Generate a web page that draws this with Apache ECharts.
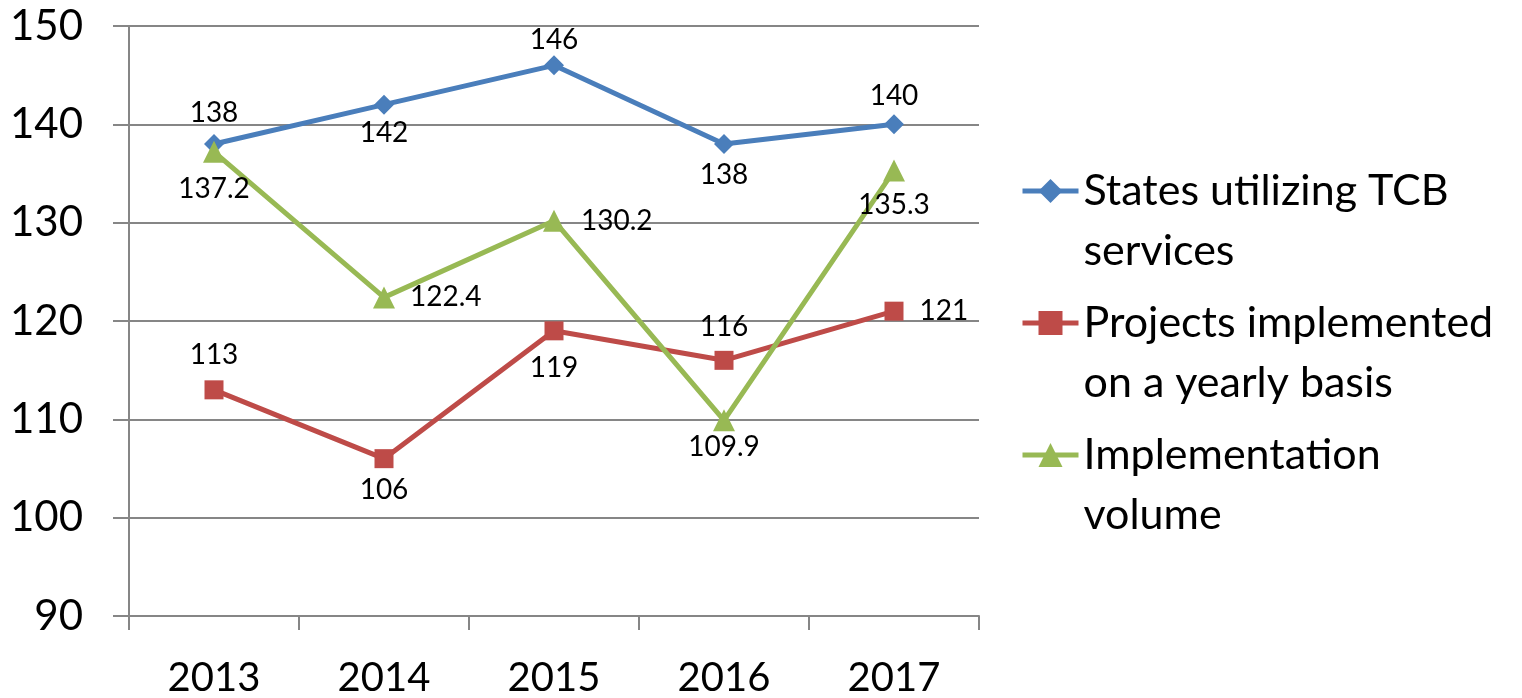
<!DOCTYPE html>
<html><head><meta charset="utf-8">
<script src="https://cdn.jsdelivr.net/npm/echarts@6/dist/echarts.min.js"></script>
<style>html,body{margin:0;padding:0;background:#fff}#c{width:1522px;height:698px}</style>
</head><body><div id="c"></div>
<script>
const categories = ['2013', '2014', '2015', '2016', '2017'];
const statesTCB = [138, 142, 146, 138, 140];
const projectsYearly = [113, 106, 119, 116, 121];
const implVolume = [137.2, 122.4, 130.2, 109.9, 135.3];
const seriesNames = ['States utilizing TCB services', 'Projects implemented on a yearly basis', 'Implementation volume'];
const legendText = ['States utilizing TCB\nservices', 'Projects implemented\non a yearly basis', 'Implementation\nvolume'];
const yTicks = { min: 90, max: 150, interval: 10 };

const FONT = 'Lato';
const colors = ['#4A7EBB', '#BE4B48', '#98B954'];
const labelPlace = [
  [['top', 7], ['bottom', 4], ['top', 1], ['bottom', 7], ['top', 4]],
  [['top', 11], ['bottom', 8], ['bottom', 14], ['top', 10], ['right', 16]],
  [['bottom', 12], ['right', 15], ['right', 16], ['bottom', 2], ['bottom', 9]]
];
const symbols = ['diamond', 'rect', 'triangle'];
const symSizes = [20, 19, 22];
const allData = [statesTCB, projectsYearly, implVolume];

function mkSeries(i) {
  return {
    name: seriesNames[i], type: 'line',
    data: allData[i].map((v, j) => ({
      value: v,
      label: { position: labelPlace[i][j][0], distance: labelPlace[i][j][1] }
    })),
    symbol: symbols[i], symbolSize: symSizes[i],
    lineStyle: { color: colors[i], width: 5 },
    itemStyle: { color: colors[i] },
    label: { show: true, color: '#000', fontFamily: FONT, fontSize: 28 },
    emphasis: { disabled: true },
    animation: false
  };
}
const legendTops = [101, 233, 365];
const chart = echarts.init(document.getElementById('c'));
chart.setOption({
  animation: false,
  color: colors,
  grid: { left: 129, right: 543, top: 26, bottom: 82, containLabel: false },
  xAxis: {
    type: 'category', data: categories, boundaryGap: true,
    axisLine: { lineStyle: { color: '#868686', width: 2 } },
    axisTick: { show: true, length: 14, lineStyle: { color: '#868686', width: 2 } },
    axisLabel: { color: '#000', fontFamily: FONT, fontSize: 40, margin: 42 }
  },
  yAxis: {
    type: 'value', min: yTicks.min, max: yTicks.max, interval: yTicks.interval,
    axisLine: { show: true, lineStyle: { color: '#868686', width: 2 } },
    axisTick: { show: true, length: 16, lineStyle: { color: '#868686', width: 2 } },
    splitLine: { lineStyle: { color: '#868686', width: 2 } },
    axisLabel: { color: '#000', fontFamily: FONT, fontSize: 42, margin: 46 }
  },
  legend: seriesNames.map((n, i) => ({
    data: [n], orient: 'vertical', left: 1020, top: legendTops[i], padding: 0,
    itemWidth: 56, itemHeight: 30, itemGap: 0, selectedMode: false,
    lineStyle: { width: 5 },
    formatter: () => '\n' + legendText[i],
    textStyle: { color: '#000', fontFamily: FONT, fontSize: 43, lineHeight: 60 }
  })),
  series: [0, 1, 2].map(mkSeries)
});
</script></body></html>
